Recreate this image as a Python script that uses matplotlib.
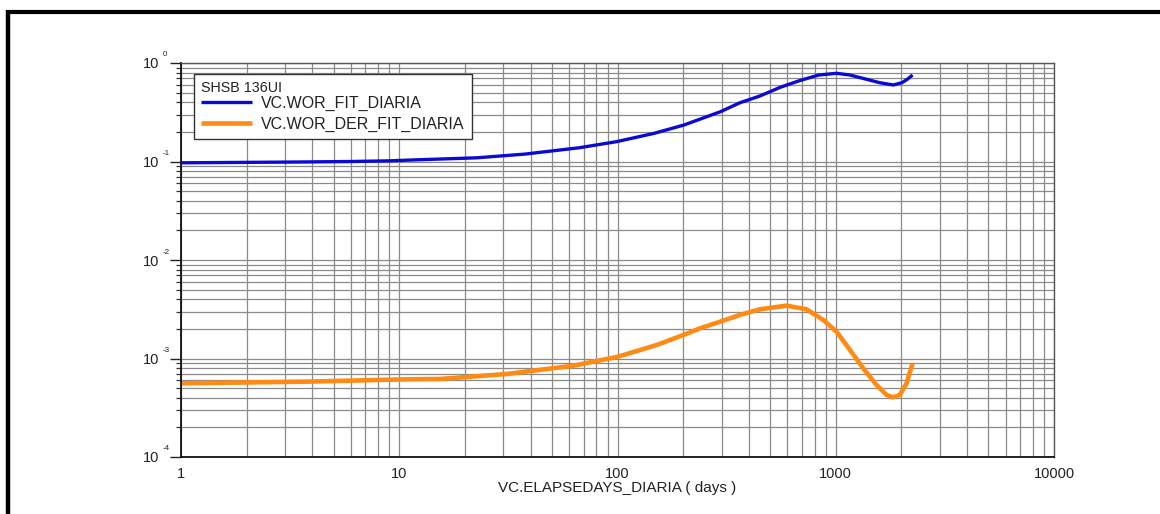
import matplotlib
matplotlib.use("Agg")
import matplotlib.pyplot as plt
from matplotlib.lines import Line2D
from matplotlib.ticker import FixedLocator, NullFormatter, FixedFormatter
from matplotlib.transforms import offset_copy

plt.rcParams['font.family'] = ['Liberation Sans', 'DejaVu Sans']

# ---- data ----
legend_title = "SHSB 136UI"
series_names = ["VC.WOR_FIT_DIARIA", "VC.WOR_DER_FIT_DIARIA"]
x_label = "VC.ELAPSEDAYS_DIARIA ( days )"

wor_x = [1, 2, 3.8, 6, 8.9, 12, 22.7, 37.8, 67, 99, 147, 202, 296, 364, 449,
         556, 681, 835, 1009, 1162, 1385, 1590, 1834, 2011, 2130, 2249]
wor_y = [0.097, 0.098, 0.099, 0.100, 0.1015, 0.104, 0.109, 0.119, 0.138, 0.159,
         0.193, 0.235, 0.32, 0.395, 0.462, 0.566, 0.661, 0.755, 0.786, 0.755,
         0.683, 0.631, 0.598, 0.631, 0.685, 0.755]

der_x = [1, 3.8, 7.9, 10.8, 15.4, 31, 62.7, 100, 151, 200, 238, 296, 364, 449,
         595, 735, 877, 1009, 1162, 1337, 1538, 1710, 1834, 1966, 2110, 2249]
der_y = [0.00056, 0.000582, 0.000605, 0.000615, 0.00062, 0.000696, 0.000845,
         0.00104, 0.00137, 0.00173, 0.00202, 0.00237, 0.00277, 0.00316,
         0.00344, 0.00316, 0.00246, 0.00187, 0.00122, 0.000794, 0.000538,
         0.000426, 0.000404, 0.000426, 0.00056, 0.000893]

x_ticks = [1, 10, 100, 1000, 10000]
x_tick_labels = ["1", "10", "100", "1000", "10000"]
y_ticks = [1e-4, 1e-3, 1e-2, 1e-1, 1e0]
y_tick_base = ["10", "10", "10", "10", "10"]
y_tick_exp = ["-4", "-3", "-2", "-1", "0"]

blue = "#0a0ad2"
orange = "#ff8a14"
grid_col = "#8a8a8a"
text_col = "#222222"

# ---- figure ----
fig = plt.figure(figsize=(11.6, 5.14), dpi=100)
ax = fig.add_axes([181/1160, 1 - 457/514, (1054-181)/1160, (457-63)/514])
ax.set_xscale('log')
ax.set_yscale('log')
ax.set_xlim(1, 10000)
ax.set_ylim(1e-4, 1)

ax.plot(wor_x, wor_y, color=blue, lw=2.4, label=series_names[0], solid_capstyle='butt')
ax.plot(der_x, der_y, color=orange, lw=3.3, label=series_names[1], solid_capstyle='butt')

# ticks
ax.xaxis.set_major_locator(FixedLocator(x_ticks))
ax.xaxis.set_major_formatter(FixedFormatter(x_tick_labels))
ax.yaxis.set_major_locator(FixedLocator(y_ticks))
ax.yaxis.set_major_formatter(FixedFormatter(y_tick_base))
minors_x = [m * 10**d for d in range(0, 4) for m in range(2, 10)]
minors_y = [m * 10.0**d for d in range(-4, 0) for m in range(2, 10)]
ax.xaxis.set_minor_locator(FixedLocator(minors_x))
ax.yaxis.set_minor_locator(FixedLocator(minors_y))
ax.xaxis.set_minor_formatter(NullFormatter())
ax.yaxis.set_minor_formatter(NullFormatter())

ax.tick_params(axis='x', which='both', length=0, pad=7, labelsize=10.5, colors=text_col)
ax.tick_params(axis='y', which='major', length=8, width=1.0, direction='out',
               pad=8, labelsize=10.5, colors=text_col)
ax.tick_params(axis='y', which='minor', length=3.5, width=0.9, direction='out', color='#333333')

# small raised exponents next to the "10" tick labels
ytr = ax.get_yaxis_transform()
for yv, ex in zip(y_ticks, y_tick_exp):
    tr = offset_copy(ytr, fig=fig, x=-18, y=4.5, units='dots')
    ax.text(0, yv, ex, transform=tr, fontsize=5.8, color=text_col,
            ha='left', va='bottom', clip_on=False)

ax.grid(True, which='both', color=grid_col, lw=0.9)
ax.set_axisbelow(True)

for s in ['left', 'bottom']:
    ax.spines[s].set_color('#111111')
    ax.spines[s].set_linewidth(1.3)
for s in ['top', 'right']:
    ax.spines[s].set_color('#555555')
    ax.spines[s].set_linewidth(1.0)

ax.set_xlabel(x_label, fontsize=11, labelpad=0, color=text_col)

leg = ax.legend(title=legend_title, loc='upper left', bbox_to_anchor=(0.015, 0.972),
                borderaxespad=0, fontsize=11.5, title_fontsize=10.3,
                fancybox=False, framealpha=1, edgecolor='#333333',
                handlelength=3.2, handletextpad=0.55, labelspacing=0.36,
                borderpad=0.45, alignment='left')
leg._legend_box.sep = 0.3
leg.get_frame().set_linewidth(1.0)
leg.get_title().set_color(text_col)
for t in leg.get_texts():
    t.set_color(text_col)

# outer border (partial rectangle)
fig.add_artist(Line2D([6/1160, 1.0], [1 - 12/514, 1 - 12/514], color='black',
                      lw=3.0, transform=fig.transFigure, solid_capstyle='butt'))
fig.add_artist(Line2D([8/1160, 8/1160], [1 - 10/514, 0.0], color='black',
                      lw=3.2, transform=fig.transFigure, solid_capstyle='butt'))

fig.savefig("out.png", dpi=100)
